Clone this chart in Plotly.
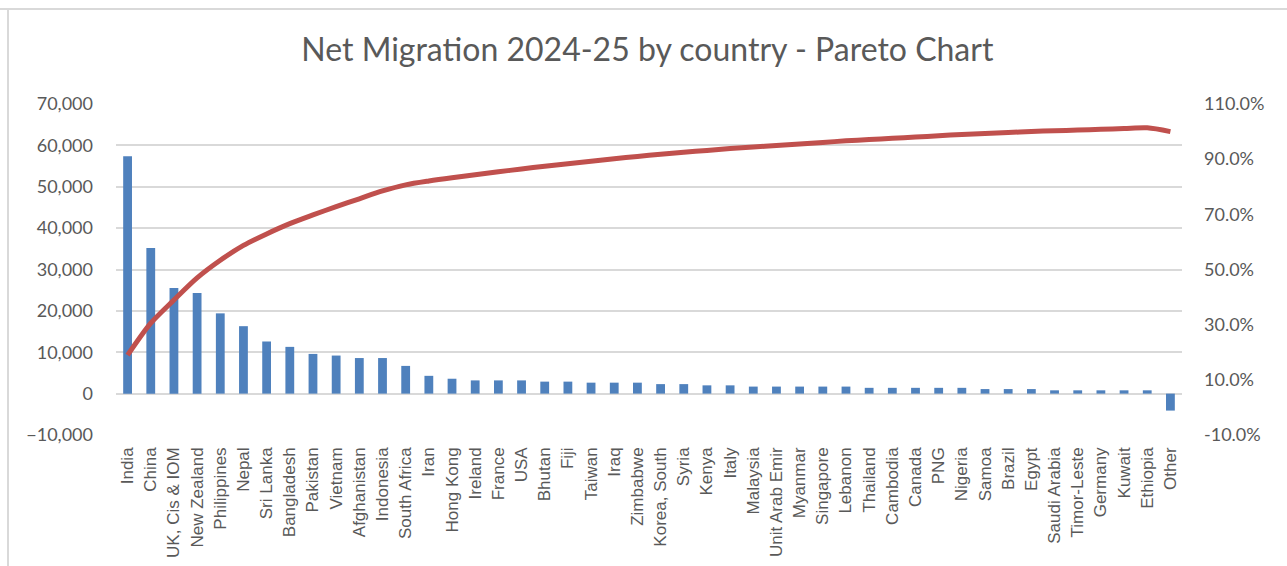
import numpy as np
import plotly.graph_objects as go

countries = ["India", "China", "UK, Cis & IOM", "New Zealand", "Philippines", "Nepal",
             "Sri Lanka", "Bangladesh", "Pakistan", "Vietnam", "Afghanistan", "Indonesia",
             "South Africa", "Iran", "Hong Kong", "Ireland", "France", "USA", "Bhutan", "Fiji",
             "Taiwan", "Iraq", "Zimbabwe", "Korea, South", "Syria", "Kenya", "Italy",
             "Malaysia", "Unit Arab Emir", "Myanmar", "Singapore", "Lebanon", "Thailand",
             "Cambodia", "Canada", "PNG", "Nigeria", "Samoa", "Brazil", "Egypt",
             "Saudi Arabia", "Timor-Leste", "Germany", "Kuwait", "Ethiopia", "Other"]

net_migration = [57400, 35200, 25500, 24300, 19400, 16300,
                 12600, 11300, 9600, 9200, 8600, 8600,
                 6700, 4300, 3600, 3200, 3200, 3200, 2900, 2900,
                 2650, 2650, 2650, 2300, 2300, 2000, 2000,
                 1700, 1700, 1700, 1700, 1700, 1400,
                 1400, 1400, 1400, 1400, 1100, 1100, 1100,
                 800, 800, 800, 800, 800, -4100]

left_ticks = [-10000, 0, 10000, 20000, 30000, 40000, 50000, 60000, 70000]
right_ticks = [-10, 10, 30, 50, 70, 90, 110]

vals = np.array(net_migration, dtype=float)
cum_pct = np.cumsum(vals) / vals.sum() * 100

fig = go.Figure()
fig.add_trace(go.Bar(x=countries, y=net_migration, marker_color="#4F81BD",
                     marker_line_width=0, yaxis="y", name="Net migration"))
fig.add_trace(go.Scatter(x=countries, y=cum_pct, mode="lines",
                         line=dict(color="#C0504D", width=5, shape="spline", smoothing=0.8),
                         yaxis="y2", name="Cumulative %"))

tick_font = dict(family="Lato, Open Sans, sans-serif", size=18, color="#595959")

fig.update_layout(
    width=1287, height=566,
    margin=dict(l=116, r=105, t=104, b=131),
    paper_bgcolor="white", plot_bgcolor="white",
    showlegend=False,
    bargap=0.62,
    title=dict(text="Net Migration 2024-25 by country - Pareto Chart",
               x=0.503, xanchor="center", y=0.912, yanchor="middle",
               font=dict(family="Lato, Open Sans, sans-serif", size=32, color="#595959")),
    xaxis=dict(tickangle=-90, showgrid=False, ticks="", showline=False,
               tickfont=dict(family="Liberation Sans Narrow, Liberation Sans, Arial", size=17, color="#595959"),
               automargin=False, ticklabelstandoff=8),
    yaxis=dict(range=[-10000, 70000], tickvals=left_ticks, tickformat=",d",
               showgrid=True, gridcolor="#D9D9D9", gridwidth=1.5, zeroline=False,
               tickfont=tick_font, ticks="", automargin=False, ticklabelstandoff=22),
    yaxis2=dict(range=[-10, 110], tickvals=right_ticks,
                ticktext=[f"{v:.1f}%" for v in right_ticks],
                overlaying="y", side="right", showgrid=False, zeroline=False,
                tickfont=tick_font, ticks="", automargin=False, ticklabelstandoff=21),
    shapes=[
        dict(type="line", xref="paper", yref="paper", x0=-116/1066, x1=1.2,
             y0=1 + (104 - 9) / 331, y1=1 + (104 - 9) / 331,
             line=dict(color="#D9D9D9", width=2)),
        dict(type="line", xref="paper", yref="paper", x0=-(116 - 8) / 1066, x1=-(116 - 8) / 1066,
             y0=-0.5, y1=1 + (104 - 9) / 331,
             line=dict(color="#D9D9D9", width=2)),
    ],
)

fig.write_html("out.html")
